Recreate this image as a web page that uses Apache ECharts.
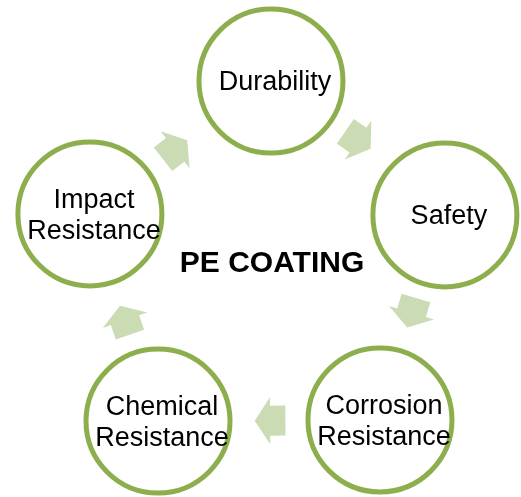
<!DOCTYPE html>
<html>
<head>
<meta charset="utf-8">
<title>PE Coating</title>
<script src="https://cdn.jsdelivr.net/npm/echarts@6/dist/echarts.min.js"></script>
<style>
  html, body { margin: 0; padding: 0; background: #fff; }
  #chart { width: 521px; height: 497px; }
</style>
</head>
<body>
<div id="chart"></div>
<script>
// circles of the cycle, clockwise from the top (angle in degrees, radius 0..1)
const nodeNames = ['Durability', 'Safety', 'Corrosion\nResistance', 'Chemical\nResistance', 'Impact\nResistance']
const nodeAngles = [0.6, 72.6, 143.5, 216.3, 287.4]
const nodeRadii = [1.016, 0.991, 1.003, 1.008, 1.009]

// block arrows between the circles
const arrowAngles = [34.4, 106.7, 179.6, 250.8, 322]
const arrowRadii = [0.847, 0.80, 0.81, 0.82, 0.82]

const centerTitle = 'PE COATING'

const green = '#8cae4c'
const arrowGreen = '#cbdcb5'
const arrowPath = 'path://M0,8.5 L19,8.5 L19,0 L38,23.5 L19,47 L19,38.5 L0,38.5 Z'

const chart = echarts.init(document.getElementById('chart'))

chart.setOption({
  animation: false,
  polar: {
    center: [269, 270],
    radius: 186 * 1.2
  },
  radiusAxis: {
    type: 'value',
    min: 0,
    max: 1.2,
    axisLine: { show: false },
    axisTick: { show: false },
    axisLabel: { show: false },
    splitLine: { show: false }
  },
  angleAxis: {
    type: 'value',
    min: 0,
    max: 360,
    startAngle: 90,
    clockwise: true,
    axisLine: { show: false },
    axisTick: { show: false },
    axisLabel: { show: false },
    splitLine: { show: false }
  },
  series: [
    {
      // arrows
      type: 'scatter',
      coordinateSystem: 'polar',
      symbol: arrowPath,
      symbolSize: [38, 47],
      symbolKeepAspect: true,
      itemStyle: { color: arrowGreen, opacity: 1 },
      silent: true,
      data: arrowAngles.map((a, i) => ({
        value: [arrowRadii[i], a],
        symbolRotate: -a
      })),
      z: 1
    },
    {
      // circles
      type: 'scatter',
      coordinateSystem: 'polar',
      symbol: 'circle',
      symbolSize: 144,
      itemStyle: {
        color: '#fff',
        borderColor: green,
        borderWidth: 5,
        opacity: 1
      },
      label: {
        show: true,
        position: 'inside',
        offset: [4, 2],
        formatter: p => p.name,
        color: '#000',
        textBorderWidth: 0,
        fontFamily: 'Liberation Sans, Arial, sans-serif',
        fontSize: 27,
        lineHeight: 31
      },
      silent: true,
      data: nodeNames.map((n, i) => ({
        name: n,
        value: [nodeRadii[i], nodeAngles[i]]
      })),
      z: 2
    },
    {
      // centre label
      type: 'scatter',
      coordinateSystem: 'polar',
      symbolSize: 0,
      itemStyle: { color: '#000', opacity: 1 },
      label: {
        show: true,
        position: 'inside',
        offset: [3, -6],
        formatter: centerTitle,
        color: '#000',
        textBorderWidth: 0,
        fontFamily: 'Liberation Sans, Arial, sans-serif',
        fontWeight: 'bold',
        fontSize: 30
      },
      silent: true,
      data: [[0, 0]],
      z: 3
    }
  ]
})
</script>
</body>
</html>
